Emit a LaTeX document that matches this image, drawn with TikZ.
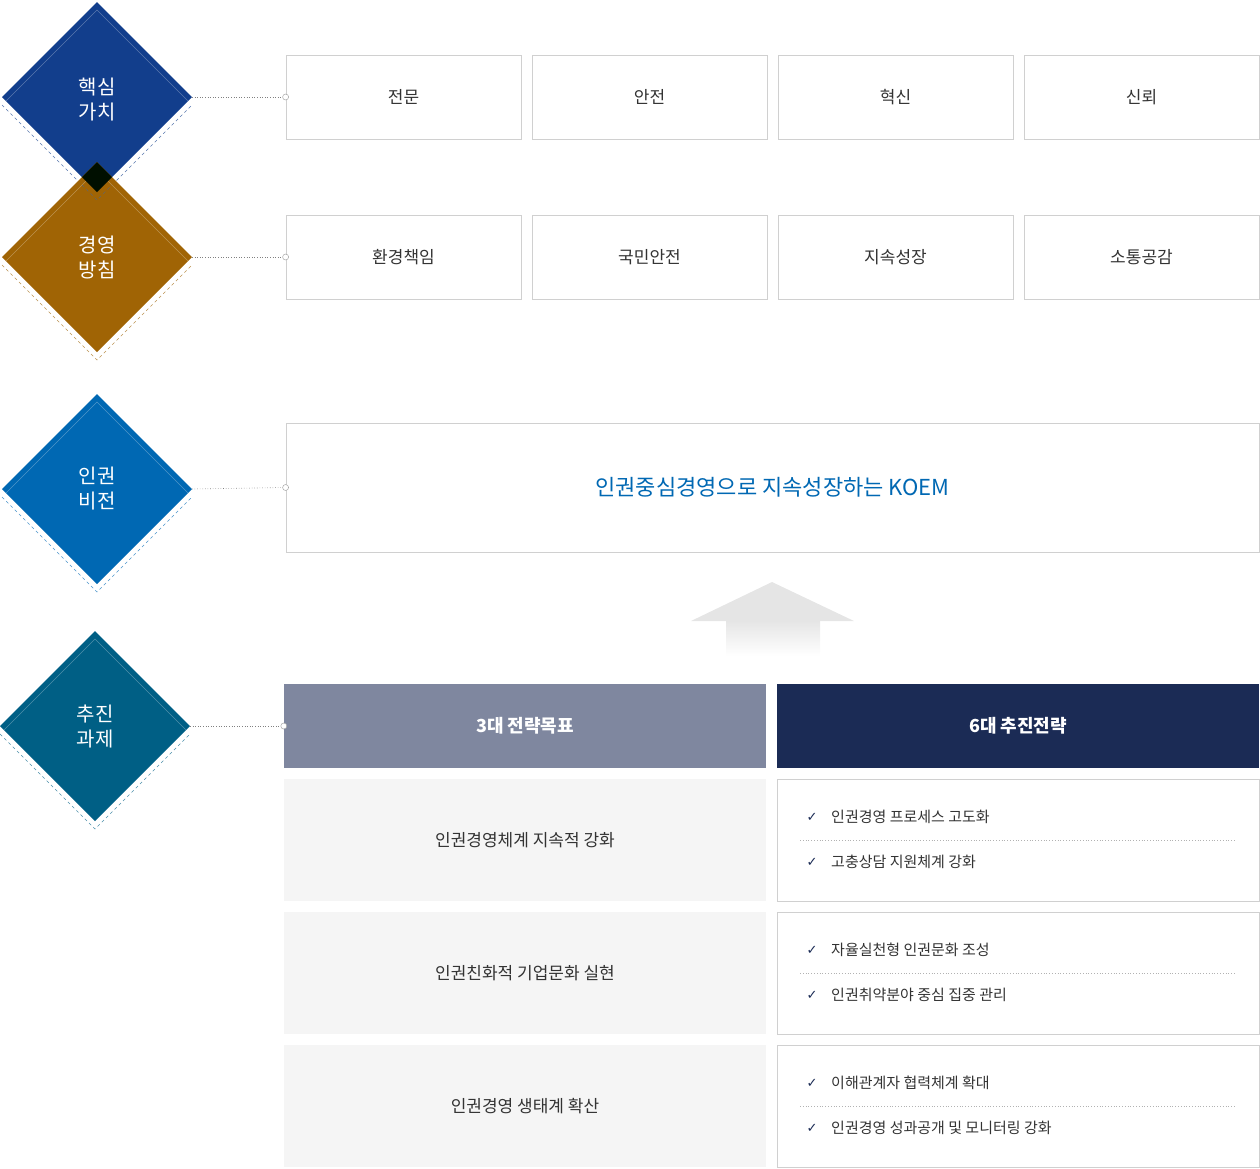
\documentclass[tikz,border=0pt]{standalone}
\usepackage{fontspec}
\setmainfont{Noto Sans CJK KR}
\newfontfamily\sym{DejaVu Sans}
\definecolor{cA}{HTML}{123E8C}\definecolor{cB}{HTML}{A06405}
\definecolor{cC}{HTML}{0068B3}\definecolor{cD}{HTML}{005F85}
\definecolor{bord}{HTML}{D0D0D0}\definecolor{txt}{HTML}{333333}
\definecolor{navy}{HTML}{1B2B55}\definecolor{grayh}{HTML}{7F879F}
\tikzset{
 box/.style={draw=bord,line width=0.8pt,fill=white,minimum width=235pt,minimum height=84pt,inner sep=0,font=\fontsize{17}{20}\selectfont,text=txt},
 dlab/.style={text=white,font=\fontsize{20}{25}\selectfont,align=center},
 conn/.style={draw=gray,dotted,line width=0.6pt},
 cir/.style={circle,draw=gray!70,fill=white,line width=0.5pt,minimum size=6pt,inner sep=0},
 head/.style={minimum width=482pt,minimum height=84pt,inner sep=0,text=white,font=\bfseries\fontsize{18}{22}\selectfont},
 lrow/.style={fill=black!4,minimum width=482pt,minimum height=122pt,inner sep=0,text=txt,font=\fontsize{17}{20}\selectfont},
 rrow/.style={draw=bord,line width=0.8pt,minimum width=482pt,minimum height=122pt,inner sep=0},
 item/.style={anchor=west,text=txt,font=\fontsize{15}{18}\selectfont,inner sep=0},
 chk/.style={anchor=center,text=navy,font=\sym\bfseries\fontsize{13}{15}\selectfont,inner sep=0}
}
\newcommand{\dia}[4]{% x y color name
 \fill[#3] (#1-95,#2) -- (#1,#2-95) -- (#1+95,#2) -- (#1,#2+95) -- cycle;
 \draw[#3!70,dashed,line width=0.6pt] (#1-95,#2+8) -- (#1,#2+103) -- (#1+95,#2+8);
 \begin{scope}
 \clip (#1-95,#2) -- (#1,#2-95) -- (#1+95,#2) -- (#1,#2+95) -- cycle;
 \draw[white,opacity=0.3,line width=0.6pt] (#1-95,#2+8) -- (#1,#2-87) -- (#1+95,#2+8) -- (#1,#2+103) -- cycle;
 \end{scope}
 \coordinate (#4) at (#1+95,#2);
}
\begin{document}
\begin{tikzpicture}[x=1pt,y=-1pt]
\useasboundingbox (0,0) rectangle (1260,1168);
\dia{97}{97}{cA}{dA}
\dia{97}{257}{cB}{dB}
\fill[black!85!green!40!black] (97,162) -- (112,177) -- (97,192) -- (82,177) -- cycle;
\draw[black!60,dashed,line width=0.6pt] (82,185) -- (97,200) -- (112,185);
\node[dlab] at (97,100) {핵심\\가치};
\node[dlab] at (97,257) {경영\\방침};
\dia{97}{489}{cC}{dC}
\node[dlab] at (97,489) {인권\\비전};
\dia{95}{726}{cD}{dD}
\node[dlab] at (95,726) {추진\\과제};
% row 1
\foreach \t/\x [count=\i] in {전문/403.5,안전/649.5,혁신/895.5,신뢰/1141.5}
 \node[box] (a\i) at (\x,97) {\t};
\foreach \t/\x [count=\i] in {환경책임/403.5,국민안전/649.5,지속성장/895.5,소통공감/1141.5}
 \node[box] (b\i) at (\x,257) {\t};
\node[box,minimum width=973pt,minimum height=129pt,text=cC,font=\fontsize{22}{26}\selectfont] (v) at (772.5,487.5) {인권중심경영으로 지속성장하는 KOEM};
\foreach \d/\n in {dA/a1,dB/b1,dC/v}{
 \draw[conn] (\d) -- (\n.west);
 \node[cir] at (\n.west) {};
}
% arrow
\shade[top color=black!10,bottom color=white] (726,621) rectangle (820,656);
\fill[black!10] (691,621) -- (772,582) -- (854,621) -- cycle;
% headers
\node[head,fill=grayh] (h1) at (525,726) {3대 전략목표};
\node[head,fill=navy] (h2) at (1018,726) {6대 추진전략};
\draw[conn] (dD) -- (h1.west);
\node[cir] at (h1.west) {};
\foreach \y/\t [count=\i] in {840/인권경영체계 지속적 강화,973/인권친화적 기업문화 실현,1106/인권경영 생태계 확산}{
 \node[lrow] (l\i) at (525,\y) {\t};
 \node[rrow] (r\i) at (1018,\y) {};
 \draw[black!30,dotted,line width=0.8pt] (800,\y) -- (1235,\y);
}
\foreach \y/\t in {817/인권경영 프로세스 고도화,862/고충상담 지원체계 강화,950/자율실천형 인권문화 조성,995/인권취약분야 중심 집중 관리,1083/이해관계자 협력체계 확대,1128/인권경영 성과공개 및 모니터링 강화}{
 \node[chk] at (812,\y) {✓};
 \node[item] at (831,\y) {\t};
}
\end{tikzpicture}
\end{document}
